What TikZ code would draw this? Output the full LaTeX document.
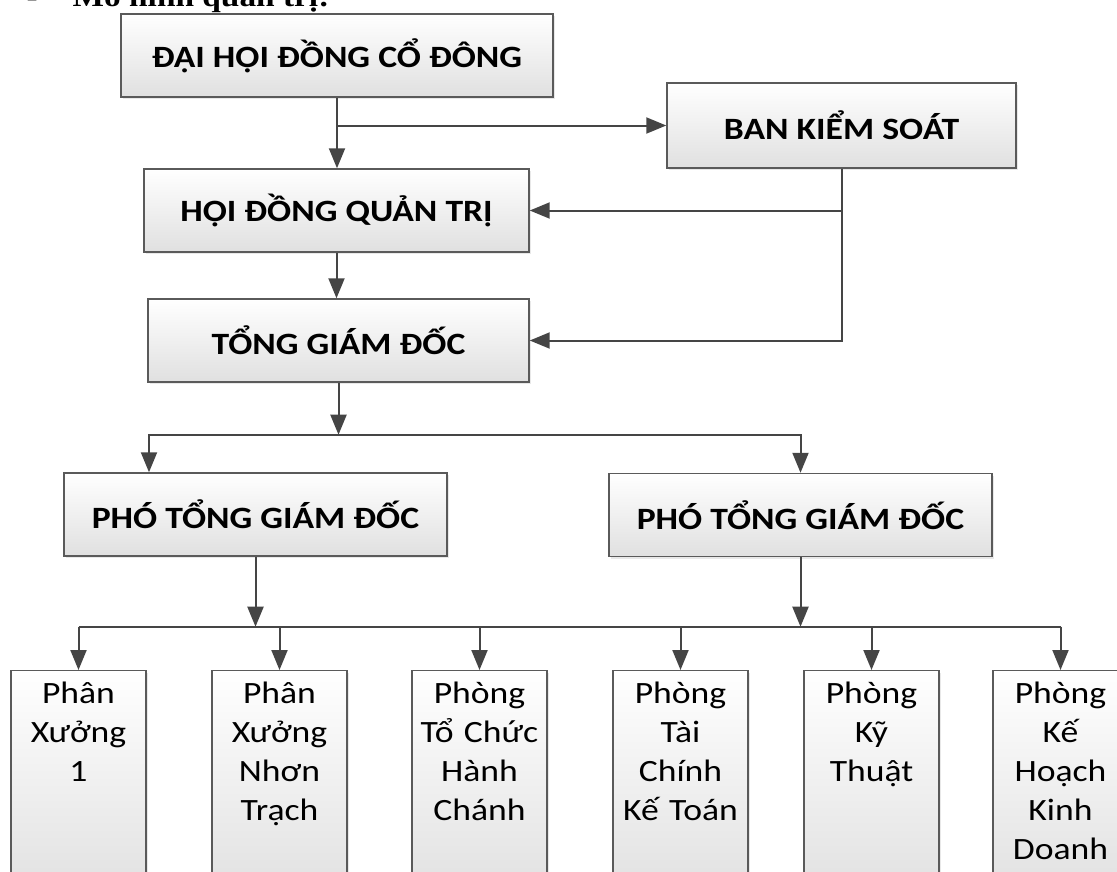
\documentclass[tikz,border=0pt]{standalone}
\usepackage{fontspec}
\setmainfont{Carlito}[FakeStretch=1.15]
\newfontfamily\titlefont{Liberation Serif}[FakeStretch=1.15]
\newcommand\boxsize{\fontsize{23.25}{29.25}\selectfont}
\usepackage{tikz}
\usetikzlibrary{arrows.meta,positioning,calc,shadows}
\definecolor{boxline}{HTML}{5A5A5A}
\definecolor{arrowgray}{HTML}{454545}
\definecolor{boxbottom}{HTML}{E0E0E0}

\tikzset{
  orgbox/.style={draw=boxline, line width=1.1pt, top color=white, bottom color=boxbottom,
    drop shadow={opacity=0.18, shadow xshift=1.5pt, shadow yshift=-1.5pt},
    minimum height=62.25pt, inner sep=0pt, font=\boxsize\bfseries},
  unitbox/.style={orgbox, font=\boxsize\mdseries, anchor=north, text width=101.25pt, align=center,
    text height=24.75pt, text depth=147.75pt},
  wire/.style={draw=arrowgray, line width=1.5pt},
  link/.style={wire, -{Triangle[length=15pt,width=12pt]}}
}

\begin{document}
\begin{tikzpicture}[x=0.75pt,y=-0.75pt]
\useasboundingbox (0,0) rectangle (1117,871);
\clip (0,0) rectangle (1117,871);

\node[anchor=base west, font=\titlefont\bfseries\fontsize{21.75}{26}\selectfont] (bullet) at (22,6) {-};
\node[anchor=base west, font=\titlefont\bfseries\fontsize{21.75}{26}\selectfont] (title) at (68,6) {Mô hình quản trị:};

\node[orgbox, minimum width=324pt] (dhd) at (337,55.5) {ĐẠI HỘI ĐỒNG CỔ ĐÔNG};
\node[orgbox, minimum width=261.75pt, minimum height=63.75pt] (bks) at (841.5,125.5) {BAN KIỂM SOÁT};
\node[orgbox, minimum width=288.75pt] (hdqt) at (336.5,210.5) {HỘI ĐỒNG QUẢN TRỊ};
\node[orgbox, minimum width=285.75pt] (tgd) at (338.5,340.5) {TỔNG GIÁM ĐỐC};
\node[orgbox, minimum width=287.25pt] (ptgd1) at (255.5,514.5) {PHÓ TỔNG GIÁM ĐỐC};
\node[orgbox, minimum width=287.25pt] (ptgd2) at (800.5,515) {PHÓ TỔNG GIÁM ĐỐC};

\foreach \i/\cx/\txt in {1/78.5/{Phân\\Xưởng\\1},
                         2/279.5/{Phân\\Xưởng\\Nhơn\\Trạch},
                         3/479.5/{Phòng\\Tổ Chức\\Hành\\Chánh},
                         4/680.5/{Phòng\\Tài\\Chính\\Kế Toán},
                         5/871.5/{Phòng\\Kỹ\\Thuật},
                         6/1060.5/{Phòng\\Kế\\Hoạch\\Kinh\\Doanh}}
  \node[unitbox] (u\i) at (\cx,670) {\txt};

\coordinate (bus1) at ($(tgd.south)+(0,52)$);
\coordinate (bus2) at ($(ptgd1.south)+(0,70)$);

\draw[link] (dhd.south) -- (dhd.south |- hdqt.north);
\draw[link] (dhd.south |- bks.west) -- (bks.west);
\draw[link] (bks.south) |- (tgd.east);
\draw[link] (bks.south |- hdqt.east) -- (hdqt.east);
\draw[link] (hdqt.south) -- (hdqt.south |- tgd.north);
\draw[link] (tgd.south) -- (bus1);
\draw[link] (bus1) -| (ptgd2.north);
\draw[link] (bus1) -| ($(ptgd1.north)+(-106.5,0)$);
\draw[link] (ptgd1.south) -- (bus2);
\draw[link] (ptgd2.south) -- (ptgd2.south |- bus2);
\draw[wire] (u1.north |- bus2) -- (u6.north |- bus2);
\foreach \i in {1,...,6}
  \draw[link] (u\i.north |- bus2) -- (u\i.north);
\end{tikzpicture}
\end{document}
